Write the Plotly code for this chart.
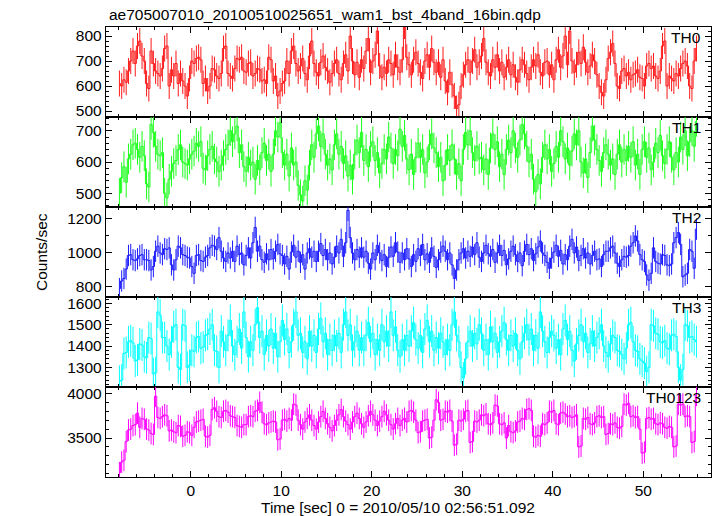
import plotly.graph_objects as go
from plotly.subplots import make_subplots

BIN_START = -8.0
BIN_WIDTH = 0.25

TH0 = [
    610, 600, 625, 615, 660, 700, 740, 690, 760, 780, 720, 700, 610, 590, 740, 690,
    660, 650, 640, 670, 750, 760, 600, 665, 640, 690, 610, 650, 620, 600, 560, 630,
    700, 690, 710, 715, 705, 610, 630, 580, 600, 670, 665, 640, 630, 650, 750, 760,
    650, 640, 630, 670, 710, 705, 715, 660, 655, 690, 695, 640, 650, 670, 665, 620,
    625, 610, 715, 705, 620, 640, 560, 580, 610, 620, 700, 650, 740, 760, 690, 660,
    680, 710, 650, 625, 720, 780, 690, 655, 640, 695, 720, 675, 660, 615, 650, 690,
    705, 650, 625, 690, 725, 660, 800, 700, 645, 695, 635, 705, 670, 740, 790, 655,
    700, 725, 820, 680, 635, 675, 650, 705, 690, 645, 725, 675, 655, 705, 840, 715,
    685, 645, 705, 735, 690, 655, 630, 700, 725, 675, 750, 695, 655, 695, 635, 705,
    620, 575, 655, 605, 560, 510, 525, 600, 645, 685, 705, 655, 700, 745, 675, 695,
    720, 790, 695, 655, 640, 705, 675, 725, 660, 695, 635, 675, 705, 645, 685, 635,
    615, 665, 705, 685, 650, 625, 675, 705, 680, 725, 655, 640, 695, 700, 645, 685,
    625, 705, 745, 675, 720, 800, 685, 820, 700, 655, 685, 735, 690, 755, 695, 655,
    680, 725, 700, 645, 600, 575, 560, 625, 710, 735, 770, 690, 600, 590, 660, 670,
    640, 655, 625, 645, 650, 665, 635, 630, 600, 680, 690, 670, 680, 640, 630, 660,
    760, 780, 600, 640, 630, 620, 650, 640, 670, 690, 700, 680, 600, 590, 700, 750,
]

TH1 = [
    500, 550, 585, 535, 610, 625, 655, 660, 640, 615, 650, 620, 530, 520, 720, 695,
    650, 625, 620, 630, 500, 485, 545, 570, 595, 605, 640, 655, 600, 595, 590, 610,
    625, 635, 660, 650, 665, 580, 575, 620, 640, 650, 610, 600, 570, 590, 620, 640,
    655, 700, 665, 690, 715, 630, 655, 585, 570, 615, 590, 600, 545, 605, 575, 630,
    660, 605, 625, 570, 625, 700, 680, 725, 630, 590, 625, 555, 645, 590, 600, 525,
    495, 475, 540, 510, 590, 655, 615, 690, 715, 650, 690, 625, 590, 610, 575, 655,
    690, 625, 650, 595, 620, 555, 590, 545, 625, 670, 630, 695, 605, 640, 585, 650,
    665, 605, 630, 565, 595, 640, 610, 680, 645, 595, 640, 620, 705, 650, 685, 610,
    575, 625, 560, 615, 660, 615, 640, 565, 600, 655, 690, 645, 630, 585, 615, 540,
    590, 640, 605, 655, 610, 560, 595, 540, 640, 695, 655, 700, 630, 605, 650, 610,
    615, 575, 610, 560, 645, 690, 640, 665, 585, 625, 560, 640, 670, 630, 700, 645,
    615, 670, 720, 690, 650, 600, 625, 545, 505, 560, 530, 615, 655, 610, 640, 570,
    595, 650, 615, 700, 665, 610, 645, 590, 635, 690, 655, 700, 600, 565, 610, 550,
    630, 715, 670, 640, 605, 570, 630, 655, 625, 590, 610, 560, 625, 655, 600, 640,
    605, 650, 615, 665, 590, 625, 560, 640, 665, 615, 645, 575, 600, 660, 630, 685,
    620, 595, 640, 665, 615, 575, 630, 600, 680, 640, 700, 620, 665, 700, 650, 730,
]

TH2 = [
    790, 835, 850, 905, 985, 990, 960, 955, 965, 985, 990, 960, 960, 955, 900, 920,
    1010, 1040, 1000, 990, 1025, 1020, 1030, 930, 900, 960, 1040, 1030, 990, 985, 975, 970,
    920, 880, 985, 990, 955, 950, 975, 985, 1030, 1045, 1040, 1020, 1090, 1010, 970, 950,
    1000, 970, 1010, 950, 1040, 990, 1000, 930, 985, 1030, 970, 1060, 1150, 1010, 1040, 960,
    945, 995, 960, 1020, 965, 1010, 1050, 995, 985, 935, 980, 905, 1005, 1045, 975, 1010,
    945, 990, 905, 1000, 1025, 975, 1010, 950, 1010, 1055, 985, 1020, 960, 1000, 935, 975,
    1040, 1000, 1080, 980, 1060, 1250, 1090, 1000, 960, 1020, 975, 1030, 975, 1010, 940, 905,
    1000, 960, 1045, 1000, 955, 990, 920, 975, 1035, 980, 1060, 1005, 945, 1000, 960, 1025,
    965, 920, 990, 950, 1025, 985, 1050, 960, 995, 945, 1030, 980, 915, 960, 1005, 1040,
    1010, 960, 1000, 930, 850, 900, 960, 1000, 1025, 970, 1010, 980, 1035, 990, 1060, 975,
    950, 1000, 1045, 995, 980, 1020, 945, 1000, 1045, 985, 1015, 930, 965, 1010, 1040, 990,
    950, 1000, 925, 1010, 1050, 990, 1025, 955, 995, 1035, 1070, 1000, 985, 945, 910, 970,
    1005, 1045, 980, 1015, 935, 990, 960, 1040, 1080, 1000, 1035, 955, 985, 1025, 970, 1000,
    935, 985, 1010, 960, 965, 920, 990, 1010, 1010, 1030, 1040, 1000, 940, 920, 960, 980,
    975, 985, 1040, 1060, 1100, 1070, 990, 960, 950, 870, 840, 880, 1030, 950, 940, 935,
    990, 985, 930, 925, 935, 1060, 1090, 1120, 1050, 860, 870, 880, 1020, 1010, 910, 1140,
]

TH3 = [
    1235, 1240, 1365, 1370, 1420, 1425, 1415, 1330, 1335, 1410, 1405, 1350, 1345, 1440, 1435, 1270,
    1275, 1560, 1545, 1440, 1440, 1400, 1360, 1420, 1490, 1500, 1300, 1290, 1500, 1495, 1300, 1310,
    1380, 1375, 1440, 1445, 1390, 1395, 1450, 1455, 1480, 1500, 1380, 1375, 1300, 1470, 1420, 1380,
    1450, 1520, 1400, 1360, 1420, 1480, 1390, 1560, 1440, 1350, 1420, 1380, 1500, 1580, 1440, 1470,
    1360, 1450, 1400, 1480, 1390, 1460, 1350, 1420, 1520, 1430, 1480, 1370, 1420, 1500, 1560, 1450,
    1460, 1370, 1420, 1340, 1470, 1400, 1450, 1370, 1480, 1530, 1420, 1460, 1360, 1430, 1380, 1450,
    1400, 1460, 1370, 1500, 1560, 1450, 1500, 1380, 1420, 1470, 1380, 1440, 1380, 1450, 1510, 1420,
    1460, 1360, 1430, 1380, 1500, 1420, 1470, 1400, 1560, 1450, 1490, 1380, 1350, 1430, 1380, 1450,
    1400, 1470, 1510, 1430, 1390, 1450, 1370, 1480, 1520, 1420, 1470, 1380, 1440, 1390, 1460, 1420,
    1360, 1430, 1380, 1500, 1560, 1450, 1420, 1300, 1250, 1340, 1420, 1470, 1400, 1460, 1410, 1500,
    1460, 1380, 1430, 1360, 1490, 1420, 1460, 1370, 1420, 1470, 1510, 1430, 1380, 1450, 1400, 1460,
    1380, 1340, 1420, 1460, 1500, 1430, 1480, 1380, 1450, 1390, 1560, 1470, 1420, 1370, 1440, 1470,
    1450, 1390, 1430, 1360, 1480, 1520, 1430, 1470, 1380, 1330, 1410, 1450, 1500, 1420, 1460, 1370,
    1410, 1470, 1400, 1440, 1460, 1500, 1400, 1370, 1350, 1410, 1450, 1440, 1380, 1375, 1360, 1340,
    1390, 1500, 1510, 1420, 1380, 1375, 1340, 1330, 1320, 1280, 1300, 1500, 1495, 1460, 1455, 1420,
    1415, 1425, 1390, 1385, 1450, 1455, 1445, 1300, 1240, 1290, 1500, 1495, 1440, 1445, 1430, 1420,
]

TH0123 = [
    3110, 3230, 3250, 3460, 3590, 3600, 3640, 3650, 3780, 3620, 3720, 3710, 3600, 3590, 3550, 3540,
    3970, 3730, 3720, 3740, 3760, 3750, 3580, 3590, 3570, 3560, 3640, 3630, 3520, 3530, 3570, 3560,
    3530, 3620, 3680, 3690, 3700, 3710, 3520, 3510, 3530, 3820, 3840, 3800, 3740, 3730, 3800, 3810,
    3790, 3750, 3740, 3730, 3640, 3630, 3620, 3650, 3650, 3740, 3750, 3740, 3800, 3810, 3900, 3790,
    3660, 3650, 3670, 3680, 3690, 3680, 3480, 3490, 3700, 3710, 3690, 3720, 3700, 3880, 3870, 3700,
    3650, 3600, 3680, 3720, 3760, 3700, 3640, 3600, 3680, 3740, 3800, 3720, 3660, 3620, 3580, 3640,
    3700, 3760, 3820, 3740, 3690, 3650, 3600, 3680, 3740, 3780, 3720, 3660, 3620, 3680, 3750, 3800,
    3760, 3700, 3640, 3690, 3740, 3800, 3760, 3700, 3650, 3600, 3660, 3720, 3640, 3700, 3720, 3680,
    3800, 3810, 3790, 3700, 3560, 3570, 3690, 3700, 3710, 3500, 3510, 3700, 3930, 3900, 3700, 3710,
    3800, 3790, 3810, 3690, 3420, 3430, 3700, 3690, 3710, 3800, 3810, 3450, 3460, 3690, 3680, 3700,
    3760, 3750, 3770, 3660, 3650, 3670, 3870, 3860, 3660, 3650, 3670, 3500, 3640, 3570, 3560, 3580,
    3680, 3690, 3720, 3710, 3820, 3830, 3810, 3520, 3510, 3530, 3520, 3660, 3650, 3670, 3800, 3790,
    3810, 3660, 3650, 3780, 3790, 3770, 3740, 3750, 3730, 3740, 3760, 3400, 3410, 3720, 3710, 3730,
    3660, 3650, 3670, 3740, 3750, 3730, 3740, 3540, 3550, 3660, 3650, 3670, 3620, 3610, 3630, 3880,
    3870, 3890, 3740, 3750, 3730, 3740, 3600, 3330, 3340, 3720, 3730, 3710, 3720, 3660, 3650, 3670,
    3660, 3620, 3610, 3630, 3620, 3400, 3410, 3880, 3870, 3880, 3740, 3750, 3740, 3450, 3460, 3980,
]

PANEL_NAMES = ["TH0", "TH1", "TH2", "TH3", "TH0123"]
PANEL_VALUES = [TH0, TH1, TH2, TH3, TH0123]
PANEL_ERRORS = [52, 49, 63, 75, 122]
PANEL_COLORS = ["#ff1a1a", "#1aff1a", "#1a1aff", "#00ffff", "#ff00ff"]
Y_RANGES = [[476, 836], [456, 744], [741, 1270], [1208, 1630], [3062, 4073]]
Y_DTICK = [100, 100, 200, 100, 500]
Y_MINOR = [20, 20, 100, 20, 100]
X_RANGE = [-9.357, 57.48]

TITLE = "ae705007010_20100510025651_wam1_bst_4band_16bin.qdp"
X_TITLE = "Time [sec] 0 = 2010/05/10 02:56:51.092"
Y_TITLE = "Counts/sec"

FONT = "Liberation Sans, Arial, Helvetica, sans-serif"
FS = 15.5

fig = make_subplots(rows=5, cols=1, shared_xaxes=True, vertical_spacing=0)

for i, (vals, err, col) in enumerate(zip(PANEL_VALUES, PANEL_ERRORS, PANEL_COLORS)):
    t = [BIN_START + BIN_WIDTH * (k + 0.5) for k in range(len(vals))]
    fig.add_trace(
        go.Scatter(
            x=t, y=vals, mode="lines",
            line=dict(color=col, width=1, shape="hvh"),
            error_y=dict(type="constant", value=err, color=col, thickness=1, width=0),
            showlegend=False, hoverinfo="skip",
        ),
        row=i + 1, col=1,
    )

fig.update_xaxes(
    range=X_RANGE, showline=True, mirror="allticks", linecolor="black", linewidth=1.2,
    ticks="inside", ticklen=6, tickcolor="black", tickwidth=1, tick0=0, dtick=10,
    minor=dict(ticks="inside", dtick=2, tick0=0, ticklen=3, tickcolor="black"),
    showgrid=False, zeroline=False, showticklabels=False,
    tickfont=dict(family=FONT, size=FS, color="black"),
)
fig.update_xaxes(showticklabels=True, ticklabelstandoff=-1, row=5, col=1)

for i in range(5):
    fig.update_yaxes(
        range=Y_RANGES[i], dtick=Y_DTICK[i], tick0=0,
        showline=True, mirror="allticks", linecolor="black", linewidth=1.2,
        ticks="inside", ticklen=6, tickcolor="black", tickwidth=1,
        minor=dict(ticks="inside", dtick=Y_MINOR[i], tick0=0, ticklen=3, tickcolor="black"),
        showgrid=False, zeroline=False,
        tickfont=dict(family=FONT, size=FS, color="black"),
        row=i + 1, col=1,
    )

annotations = [
    dict(text=TITLE, xref="paper", yref="paper", x=0.0017, y=1.0278,
         xanchor="left", yanchor="middle", showarrow=False,
         font=dict(family=FONT, size=FS, color="black")),
    dict(text=X_TITLE, xref="paper", yref="paper", x=0.4826, y=-0.0667,
         xanchor="center", yanchor="middle", showarrow=False,
         font=dict(family=FONT, size=FS, color="black")),
    dict(text=Y_TITLE, xref="paper", yref="paper", x=-0.1074, y=0.5,
         xanchor="center", yanchor="middle", showarrow=False, textangle=-90,
         font=dict(family=FONT, size=FS, color="black")),
]
for i, name in enumerate(PANEL_NAMES):
    annotations.append(dict(
        text=name, xref="paper", yref="paper", x=0.9868, y=1 - 0.2 * i - 0.0233,
        xanchor="right", yanchor="middle", showarrow=False,
        font=dict(family=FONT, size=FS, color="black")))

fig.update_layout(
    width=717, height=516,
    margin=dict(l=106, r=6, t=27, b=39),
    paper_bgcolor="white", plot_bgcolor="white",
    annotations=annotations,
    showlegend=False,
)

fig.write_html("out.html", config={"displayModeBar": False, "staticPlot": True})

# remove the browser's default body margin so the figure sits at the page origin
with open("out.html", "r", encoding="utf-8") as fh:
    html = fh.read()
html = html.replace("<head>", "<head><style>html,body{margin:0;padding:0;overflow:hidden;}</style>", 1)
with open("out.html", "w", encoding="utf-8") as fh:
    fh.write(html)
